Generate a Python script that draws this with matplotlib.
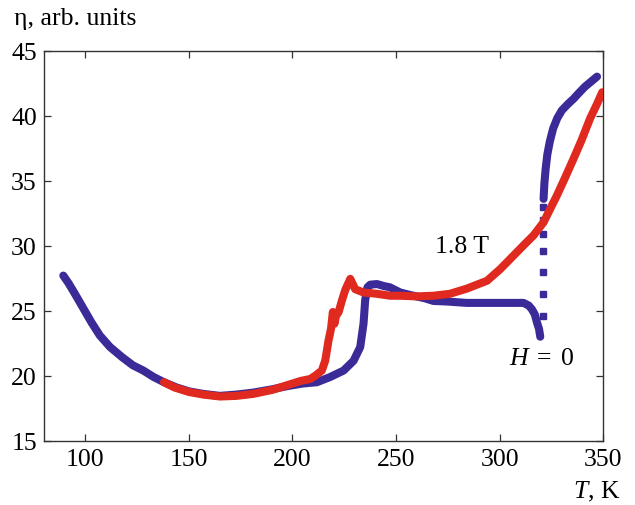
"""Viscosity-like eta(T) curves at H = 0 and 1.8 T."""

import matplotlib
matplotlib.use("Agg")
import matplotlib.pyplot as plt

BLUE = "#3a2b98"
RED = "#e0291f"

# H = 0, main curve (cooling through the transition, then down to ~320 K)
T_H0 = [89.4, 92, 95, 99, 103, 107, 112, 118, 123, 128, 133, 138, 144, 150,
        157, 165, 173, 181, 190, 197.5, 205, 211.8, 218.2, 224.7, 229.5,
        232.7, 234.3, 235.1, 236.2, 237.5, 240.8, 244, 247, 252, 257, 264,
        268, 275, 284, 295, 305, 311.5, 314, 315.6, 317, 318, 319, 319.6]
ETA_H0 = [27.7, 27.1, 26.3, 25.2, 24.1, 23.1, 22.2, 21.4, 20.8, 20.4, 19.9,
          19.5, 19.1, 18.8, 18.6, 18.45, 18.55, 18.7, 18.95, 19.2, 19.4, 19.5,
          19.9, 20.4, 21.15, 22.2, 24.0, 25.8, 26.8, 27.0, 27.05, 26.9, 26.8,
          26.4, 26.2, 25.95, 25.75, 25.7, 25.6, 25.6, 25.6, 25.6, 25.4, 25.1,
          24.7, 24.1, 23.6, 23.0]

# H = 0, sparse points of the jump near 321 K
T_H0_JUMP = [320.9, 320.9, 320.9, 320.9, 320.9, 320.9, 320.9]
ETA_H0_JUMP = [24.6, 26.3, 28.0, 29.6, 30.9, 32.0, 33.0]

# H = 0, upper branch
T_H0_UP = [321.2, 321.6, 322.2, 323.0, 324.2, 325.8, 327.8, 330, 333,
           335.7, 338, 341, 344, 347]
ETA_H0_UP = [33.6, 34.8, 35.9, 37.0, 38.0, 39.0, 39.8, 40.4, 40.9,
             41.3, 41.7, 42.2, 42.6, 43.0]

# H = 1.8 T
T_18 = [138, 143, 150, 157, 165, 173, 181, 190, 197, 204, 208.6, 211,
        214.2, 215.8, 217.4, 218.6, 219.5, 220.3, 221.0, 222.3, 223.9,
        225.5, 227.9, 230.3, 234.3, 240.8, 247.2, 252, 260, 268, 276, 284.2,
        289, 293.9, 300.3, 304, 308.3, 312, 316.4, 321.2, 324, 327.6, 331.5,
        335.7, 339.5, 343.7, 347, 349.5]
ETA_18 = [19.5, 19.1, 18.75, 18.55, 18.4, 18.45, 18.6, 18.9, 19.25, 19.6,
          19.75, 20.0, 20.4, 21.15, 22.7, 23.6, 24.9, 24.0, 24.6, 24.9, 25.8,
          26.6, 27.45, 26.65, 26.4, 26.3, 26.15, 26.15, 26.1, 26.15, 26.3,
          26.7, 27.0, 27.3, 28.2, 28.8, 29.5, 30.1, 30.8, 31.8, 32.7, 33.85,
          35.2, 36.7, 38.1, 39.8, 40.9, 41.8]

X_TICKS = [100, 150, 200, 250, 300, 350]
Y_TICKS = [15, 20, 25, 30, 35, 40, 45]

plt.rcParams["font.family"] = ["Liberation Serif", "DejaVu Serif"]
plt.rcParams["mathtext.fontset"] = "custom"
plt.rcParams["mathtext.it"] = "Liberation Serif:italic"
plt.rcParams["mathtext.rm"] = "Liberation Serif"

FS = 18.5
LW = 5.8

fig = plt.figure(figsize=(6.35, 5.06), dpi=100)
ax = fig.add_axes([0.069, 0.127, 0.881, 0.771])

ax.plot(T_H0, ETA_H0, color=BLUE, lw=LW, solid_capstyle="round",
        solid_joinstyle="round", zorder=2)
ax.plot(T_H0_UP, ETA_H0_UP, color=BLUE, lw=LW, solid_capstyle="round",
        solid_joinstyle="round", zorder=2)
ax.plot(T_H0_JUMP, ETA_H0_JUMP, ls="none", marker="s", ms=4.4,
        color=BLUE, mec=BLUE, zorder=2)
ax.plot(T_18, ETA_18, color=RED, lw=LW, solid_capstyle="round",
        solid_joinstyle="round", zorder=3)

ax.set_xlim(80, 350)
ax.set_ylim(15, 45)
ax.set_xticks(X_TICKS)
ax.set_yticks(Y_TICKS)
ax.tick_params(direction="in", length=5, width=0.9, top=True, right=True,
               labelsize=FS, color="#333333", pad=5)
for side in ax.spines.values():
    side.set_linewidth(1.0)
    side.set_color("#333333")

ax.text(281.8, 30.0, "1.8 T", fontsize=FS, ha="center", va="center")
ax.text(320.2, 21.4, r"$H\;=\;0$", fontsize=FS, ha="center", va="center")

fig.text(0.022, 0.963, "η, arb. units", fontsize=FS, ha="left", va="center")
fig.text(0.977, 0.028, "$T$, K", fontsize=FS, ha="right", va="center")

fig.savefig("out.png", dpi=100)
